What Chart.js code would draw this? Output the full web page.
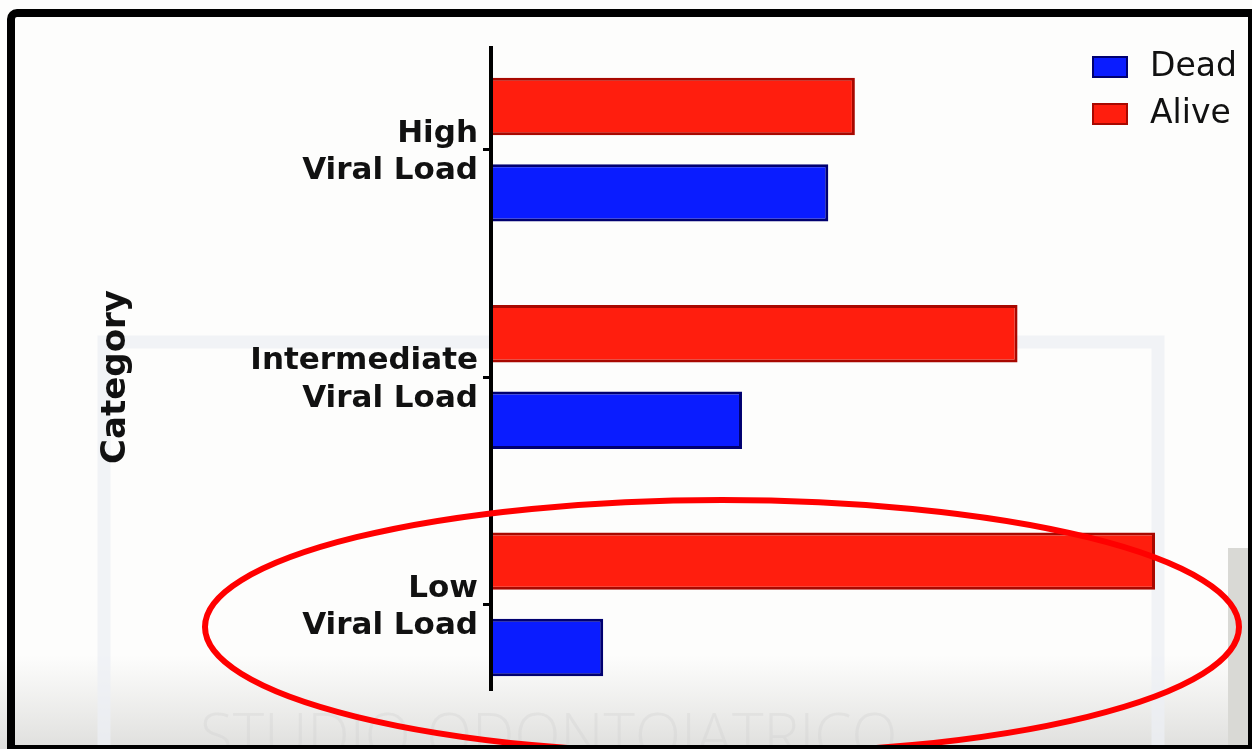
<!DOCTYPE html>
<html>
<head>
<meta charset="utf-8">
<title>Viral load vs outcome</title>
<script src="https://cdn.jsdelivr.net/npm/chart.js@4.4.1/dist/chart.umd.min.js"></script>
<style>
  html, body { margin: 0; padding: 0; background: #fff; }
  #wrap { position: relative; width: 1252px; height: 749px; overflow: hidden; }
  #frame {
    position: absolute; left: 7px; top: 9px; right: 0; bottom: 0;
    border: solid #000; border-width: 8px 4px 4px 8px;
    border-top-left-radius: 10px; pointer-events: none;
  }
</style>
</head>
<body>
<div id="wrap">
  <canvas id="viralChart"></canvas>
  <div id="frame"></div>
</div>
<script>
  // data (arbitrary units, longest bar = 100)
  const categories  = [["High", "Viral Load"], ["Intermediate", "Viral Load"], ["Low", "Viral Load"]];
  const aliveValues = [54.8, 79.3, 100];
  const deadValues  = [50.8, 37.8, 16.9];
  const seriesNames = ["Alive", "Dead"];

  const red_fill  = '#ff1e0e';
  const red_edge  = '#a80800';
  const blue_fill = '#0a1cff';
  const blue_edge = '#000070';
  const font_family = '"DejaVu Sans", "Liberation Sans", Arial, sans-serif';

  // background: fade at bottom, faint watermark frame and text
  const backdrop = {
    id: 'backdrop',
    beforeDraw(chart) {
      const { ctx, width, height } = chart;
      ctx.save();
      ctx.fillStyle = '#fdfdfc';
      ctx.fillRect(0, 0, width, height);
      const g = ctx.createLinearGradient(0, 655, 0, height);
      g.addColorStop(0, 'rgba(226,226,224,0)');
      g.addColorStop(1, '#dfdfdd');
      ctx.fillStyle = g;
      ctx.fillRect(0, 655, width, height - 655);
      ctx.strokeStyle = 'rgba(236,239,244,0.75)';
      ctx.lineWidth = 13;
      ctx.strokeRect(104, 342, 1054, 440);
      ctx.fillStyle = 'rgba(205,205,205,0.3)';
      ctx.font = '300 60px "Open Sans", sans-serif';
      ctx.textBaseline = 'top';
      ctx.fillText('STUDIO ODONTOIATRICO', 200, 710);
      ctx.fillStyle = '#d9d9d5';
      ctx.fillRect(1228, 548, 24, height - 548);
      ctx.restore();
    }
  };

  // category axis line, legend and the red ring round "Low"
  const overlay = {
    id: 'overlay',
    afterDatasetsDraw(chart) {
      const { ctx, chartArea } = chart;
      ctx.save();
      ctx.strokeStyle = '#000';
      ctx.lineWidth = 4;
      ctx.beginPath();
      ctx.moveTo(chartArea.left, chartArea.top + 10);
      ctx.lineTo(chartArea.left, chartArea.bottom - 27);
      ctx.stroke();
      ctx.restore();
    },
    afterDraw(chart) {
      const { ctx } = chart;
      ctx.save();
      const sets = chart.data.datasets.slice().reverse();
      sets.forEach((ds, i) => {
        const y = 56 + i * 47;
        ctx.fillStyle = ds.backgroundColor;
        ctx.fillRect(1092, y, 36, 22);
        ctx.strokeStyle = ds.borderColor;
        ctx.lineWidth = 2;
        ctx.strokeRect(1093, y + 1, 34, 20);
        ctx.fillStyle = '#111';
        ctx.font = '33px ' + font_family;
        ctx.textBaseline = 'middle';
        ctx.fillText(ds.label, 1150, y + 11);
      });
      ctx.strokeStyle = '#ff0000';
      ctx.lineWidth = 6;
      ctx.beginPath();
      ctx.ellipse(722, 627, 517, 127, 0, 0, Math.PI * 2);
      ctx.stroke();
      ctx.restore();
    }
  };

  const ctv = document.getElementById('viralChart').getContext('2d');
  const viralChart = new Chart(ctv, {
    type: 'bar',
    data: {
      labels: categories,
      datasets: [{
        label: seriesNames[0],
        data: aliveValues,
        backgroundColor: red_fill,
        borderColor: red_edge,
        borderWidth: 3
      }, {
        label: seriesNames[1],
        data: deadValues,
        backgroundColor: blue_fill,
        borderColor: blue_edge,
        borderWidth: 3
      }]
    },
    options: {
      indexAxis: 'y',
      responsive: true,
      maintainAspectRatio: false,
      animation: false,
      categoryPercentage: 0.76,
      barPercentage: 0.665,
      layout: {
        padding: { left: 60, top: 36, right: 97, bottom: 31 }
      },
      plugins: {
        legend: { display: false },
        tooltip: { enabled: false }
      },
      scales: {
        x: { display: false, min: 0, max: 100 },
        y: {
          border: { display: false },
          grid: {
            drawOnChartArea: false,
            offset: false,
            tickLength: 8,
            tickWidth: 3,
            tickColor: '#000'
          },
          ticks: {
            color: '#111',
            padding: 5,
            labelOffset: 3,
            font: { family: font_family, size: 31, weight: 'bold', lineHeight: 1.2 }
          },
          title: {
            display: true,
            text: 'Category',
            color: '#111',
            padding: { top: 36, bottom: 0 },
            font: { family: font_family, size: 34, weight: 'bold', lineHeight: 1.2 }
          },
          afterFit(scale) {
            scale.width = 431;
            // labels fit inside their bands, no extra room needed
            scale.paddingTop = 0;
            scale.paddingBottom = 0;
          }
        }
      }
    },
    plugins: [backdrop, overlay]
  });
</script>
</body>
</html>
